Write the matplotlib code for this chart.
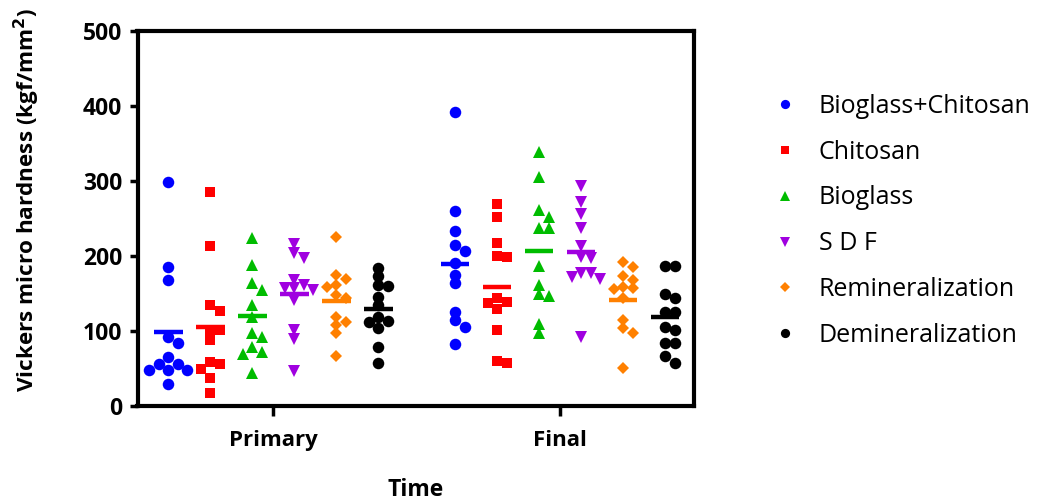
import numpy as np
import matplotlib
matplotlib.use("Agg")
import matplotlib.pyplot as plt
from matplotlib.lines import Line2D

plt.rcParams['font.family'] = ['Open Sans', 'DejaVu Sans']

groups = ["Primary", "Final"]
series = ["Bioglass+Chitosan", "Chitosan", "Bioglass", "S D F",
          "Remineralization", "Demineralization"]

bgch_primary = [299, 186, 168, 92, 84, 66, 56, 56, 48, 48, 48, 30]
chit_primary = [286, 213, 135, 127, 101, 101, 88, 59, 56, 50, 38, 18]
bg_primary = [224, 188, 164, 155, 135, 119, 97, 92, 79, 72, 70, 44]
sdf_primary = [216, 204, 197, 168, 161, 157, 157, 155, 141, 101, 90, 47]
remin_primary = [225, 175, 169, 161, 159, 148, 144, 119, 112, 108, 97, 67]
demin_primary = [184, 173, 162, 160, 146, 135, 119, 114, 112, 104, 79, 57]

bgch_final = [392, 260, 233, 215, 207, 191, 175, 164, 126, 115, 106, 83]
chit_final = [269, 252, 217, 200, 199, 144, 139, 137, 130, 101, 60, 57]
bg_final = [339, 305, 262, 252, 237, 237, 187, 162, 150, 147, 109, 98]
sdf_final = [294, 272, 256, 238, 214, 199, 197, 178, 177, 172, 169, 92]
remin_final = [192, 185, 174, 168, 159, 157, 156, 144, 115, 104, 98, 51]
demin_final = [187, 187, 149, 144, 126, 126, 106, 101, 84, 84, 67, 57]

data = {
    "Primary": [bgch_primary, chit_primary, bg_primary, sdf_primary, remin_primary, demin_primary],
    "Final": [bgch_final, chit_final, bg_final, sdf_final, remin_final, demin_final],
}

colors = ["#0000FF", "#FF0000", "#00BC00", "#A000E0", "#FF8000", "#000000"]
markers = ["o", "s", "^", "v", "D", "o"]
msizes = [8.3, 7.4, 8.4, 8.4, 6.4, 8.3]

W, H, DPI = 1042, 501, 100
fig = plt.figure(figsize=(W / DPI, H / DPI), dpi=DPI)
ax_l, ax_r, ax_t, ax_b = 137.5, 694, 31, 406
ax = fig.add_axes([ax_l / W, 1 - ax_b / H, (ax_r - ax_l) / W, (ax_b - ax_t) / H])

xmin, xmax = -0.474, 1.467
ymin, ymax = 0, 500
ax.set_xlim(xmin, xmax)
ax.set_ylim(ymin, ymax)
px_x = (ax_r - ax_l) / (xmax - xmin)
px_y = (ax_b - ax_t) / (ymax - ymin)

spacing = 0.1465
offsets = (np.arange(6) - 2.5) * spacing


def swarm(vals, step=9.5, mind=8.0):
    order = np.argsort(-np.asarray(vals))
    placed = []
    xs = np.zeros(len(vals))
    for i in order:
        y = vals[i] * px_y
        for k in [0, 1, -1, 2, -2, 3, -3]:
            x = k * step
            ok = all((x - px) ** 2 + (y - py) ** 2 >= mind ** 2 for px, py in placed)
            if ok:
                break
        placed.append((x, y))
        xs[i] = x / px_x
    return xs


for gi, g in enumerate(groups):
    for si in range(6):
        vals = np.asarray(data[g][si], dtype=float)
        xc = gi + offsets[si]
        jit = swarm(vals)
        ax.plot(xc + jit, vals, linestyle="none", marker=markers[si], ms=msizes[si],
                color=colors[si], markeredgewidth=0, zorder=3, clip_on=False)
        m = vals.mean()
        ax.plot([xc - 0.05, xc + 0.05], [m, m], color=colors[si], lw=3.2,
                solid_capstyle="butt", zorder=4)

for sp in ax.spines.values():
    sp.set_linewidth(3)
ax.set_yticks([0, 100, 200, 300, 400, 500])
ax.set_xticks([0, 1])
ax.set_xticklabels(groups)
ax.tick_params(axis="y", direction="out", length=6, width=2.5, labelsize=16.5, pad=5)
ax.tick_params(axis="x", direction="out", length=7, width=2.5, labelsize=16, pad=10)
for lab in ax.get_xticklabels() + ax.get_yticklabels():
    lab.set_fontweight("bold")

ax.set_ylabel("Vickers micro hardness (kgf/mm$\\mathbf{^2}$)", fontsize=16.2,
              fontweight="bold")
ax.set_xlabel("Time", fontsize=16.5, fontweight="bold", labelpad=20)
ax.yaxis.set_label_coords(-0.172, 0.55)

handles = [Line2D([], [], linestyle="none", marker=markers[i], ms=msizes[i] * 0.8,
                  color=colors[i], markeredgewidth=0) for i in range(6)]
leg = fig.legend(handles, series, loc="upper left", bbox_to_anchor=(760 / W, 1 - 84 / H),
                 frameon=False, fontsize=18, labelspacing=0.83, handletextpad=0.75,
                 handlelength=1.2, borderaxespad=0)

fig.savefig("out.png", dpi=DPI)
